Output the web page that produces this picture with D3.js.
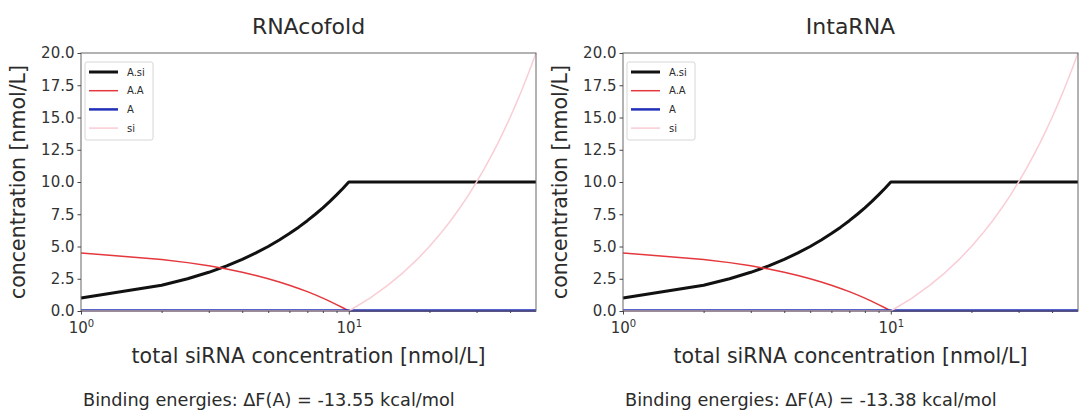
<!DOCTYPE html>
<html>
<head>
<meta charset="utf-8">
<script src="https://cdn.jsdelivr.net/npm/d3@7"></script>
<style>
  body { margin: 0; background: #fff; }
  text { font-family: "DejaVu Sans", sans-serif; fill: #2b2b2b; }
  .axis path, .axis line { stroke: #444; }
  .axis text { font-size: 15px; fill: #333; }
</style>
</head>
<body>
<script>
// total siRNA concentration (nmol/L), read at the sampled points
var totals = [1, 2, 2.5, 3, 3.5, 4, 4.5, 5, 5.5, 6, 6.5, 7, 7.5, 8, 8.5, 9, 9.5,
              10, 12, 14, 16, 18, 20, 22, 24, 26, 28, 30, 32, 34, 36, 38, 40, 42, 44, 46, 48, 50];

var asiValues = [1, 2, 2.5, 3, 3.5, 4, 4.5, 5, 5.5, 6, 6.5, 7, 7.5, 8, 8.5, 9, 9.5,
                 10, 10, 10, 10, 10, 10, 10, 10, 10, 10, 10, 10, 10, 10, 10, 10, 10, 10, 10, 10, 10];
var aaValues  = [4.5, 4, 3.75, 3.5, 3.25, 3, 2.75, 2.5, 2.25, 2, 1.75, 1.5, 1.25, 1, 0.75, 0.5, 0.25,
                 0, 0, 0, 0, 0, 0, 0, 0, 0, 0, 0, 0, 0, 0, 0, 0, 0, 0, 0, 0, 0];
var aValues   = [0.04, 0.04, 0.04, 0.04, 0.04, 0.04, 0.04, 0.04, 0.04, 0.04, 0.04, 0.04, 0.04, 0.04, 0.04, 0.04, 0.04,
                 0.04, 0.04, 0.04, 0.04, 0.04, 0.04, 0.04, 0.04, 0.04, 0.04, 0.04, 0.04, 0.04, 0.04, 0.04, 0.04, 0.04, 0.04, 0.04, 0.04, 0.04];
var siValues  = [0, 0, 0, 0, 0, 0, 0, 0, 0, 0, 0, 0, 0, 0, 0, 0, 0,
                 0, 1, 2, 3, 4, 5, 6, 7, 8, 9, 10, 11, 12, 13, 14, 15, 16, 17, 18, 19, 20];

var seriesNames = ["A.si", "A.A", "A", "si"];
var yTicks = [0, 2.5, 5, 7.5, 10, 12.5, 15, 17.5, 20];
var xMajor = [1, 10];
var xMinor = [2, 3, 4, 5, 6, 7, 8, 9, 20, 30, 40];

var panels = [
    {title: "RNAcofold", energy: "-13.55"},
    {title: "IntaRNA",   energy: "-13.38"}
];

var width  = 455;
var height = 258;

var svg = d3.select("body").append("svg").attr("width", 1079).attr("height", 412);
svg.append("rect").attr("width", 1079).attr("height", 412).attr("fill", "#fff");

var styles = [
    {values: asiValues, color: "#111",    width: 3},
    {values: aaValues,  color: "#e4383d", width: 1.5},
    {values: aValues,   color: "#2230b8", width: 2.5},
    {values: siValues,  color: "#f9cdd5", width: 1.5}
];

function drawPanel(panel, left) {

    var top = 53;

    var x = d3.scaleLog().domain([1, 50]).range([0, width]);
    var y = d3.scaleLinear().domain([0, 20]).range([height, 0]);

    var g = svg.append("g").attr("transform", "translate(" + left + "," + top + ")");

    var line = d3.line()
        .x(function(d){ return x(d[0]); })
        .y(function(d){ return y(d[1]); });

    styles.forEach(function(s) {
        g.append("path")
            .attr("d", line(totals.map(function(t, i){ return [t, s.values[i]]; })))
            .attr("fill", "none")
            .attr("stroke", s.color)
            .attr("stroke-width", s.width)
            .attr("stroke-linejoin", "round");
    });

    // frame
    g.append("rect").attr("width", width).attr("height", height)
        .attr("fill", "none").attr("stroke", "#666").attr("stroke-width", 1);

    var yAxis = g.append("g").attr("class", "axis")
        .call(d3.axisLeft(y).tickValues(yTicks).tickFormat(d3.format(".1f")).tickSize(3.5).tickPadding(3));
    yAxis.select(".domain").remove();

    var xMinorAxis = g.append("g").attr("class", "axis").attr("transform", "translate(0," + height + ")")
        .call(d3.axisBottom(x).tickValues(xMinor).tickFormat("").tickSize(2));
    xMinorAxis.select(".domain").remove();

    var xAxis = g.append("g").attr("class", "axis").attr("transform", "translate(0," + height + ")")
        .call(d3.axisBottom(x).tickValues(xMajor).tickFormat("").tickSize(3.5));
    xAxis.select(".domain").remove();
    xAxis.selectAll(".tick").append("text")
        .attr("y", 22).attr("text-anchor", "middle").attr("font-size", "14px")
        .each(function(d) {
            var t = d3.select(this);
            t.append("tspan").text("10");
            t.append("tspan").attr("dy", -6).attr("font-size", "10px").text(Math.round(Math.log10(d)));
        });

    // legend
    var lg = g.append("g").attr("transform", "translate(4,9)");
    lg.append("rect").attr("width", 68).attr("height", 78).attr("rx", 2)
        .attr("fill", "#fff").attr("fill-opacity", 0.8).attr("stroke", "#d6d6d6");
    seriesNames.forEach(function(name, i) {
        var ly = 10 + i * 18.7;
        lg.append("line").attr("x1", 4).attr("x2", 33).attr("y1", ly).attr("y2", ly)
            .attr("stroke", styles[i].color).attr("stroke-width", styles[i].width);
        lg.append("text").attr("x", 42).attr("y", ly + 3.5).attr("font-size", "10px").attr("fill", "#333").text(name);
    });

    svg.append("text").attr("x", left + width / 2).attr("y", 34).attr("text-anchor", "middle")
        .attr("font-size", "22px").text(panel.title);

    svg.append("text").attr("x", left + width / 2).attr("y", 363).attr("text-anchor", "middle")
        .attr("font-size", "20.5px").text("total siRNA concentration [nmol/L]");

    svg.append("text").attr("transform", "translate(" + (left - 56) + "," + (top + height / 2) + ") rotate(-90)")
        .attr("text-anchor", "middle").attr("font-size", "20.5px").text("concentration [nmol/L]");

    svg.append("text").attr("x", left + 2).attr("y", 406)
        .attr("font-size", "17.7px").text("Binding energies: \u0394F(A) = " + panel.energy + " kcal/mol");
}

drawPanel(panels[0], 81);
drawPanel(panels[1], 623);
</script>
</body>
</html>
